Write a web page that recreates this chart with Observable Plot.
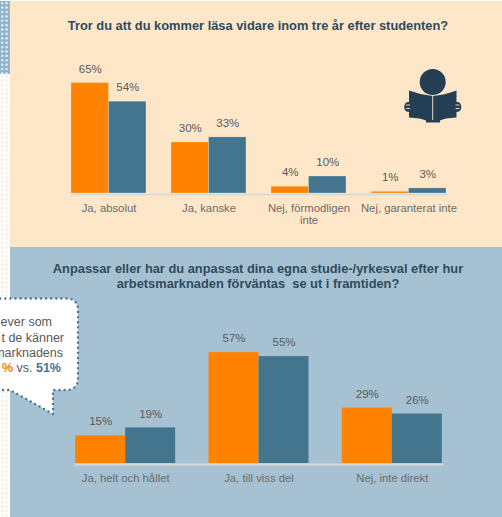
<!DOCTYPE html>
<html>
<head>
<meta charset="utf-8">
<script src="https://cdn.jsdelivr.net/npm/d3@7"></script>
<script src="https://cdn.jsdelivr.net/npm/@observablehq/plot@0.6"></script>
<style>
html,body{margin:0;padding:0;background:#fff;}
#page{position:relative;width:502px;height:517px;overflow:hidden;font-family:"Liberation Sans",Arial,sans-serif;}
.panel{position:absolute;left:10px;width:492px;}
#p1{top:1px;height:246px;background:#FEE6C9;}
#p2{top:247px;height:270px;background:#A6C2D2;}
.strip{position:absolute;left:0;width:10px;}
#s1{top:1px;height:73px;background-color:#8FB2C9;background-image:radial-gradient(circle,#e4edf3 1px,transparent 1.4px);background-size:4.4px 4.4px;}
#s2{top:74px;height:443px;background-color:#fff;background-image:radial-gradient(circle,#FDEBD8 1px,transparent 1.4px);background-size:4.4px 4.4px;}
.title{position:absolute;left:7px;width:502px;text-align:center;font-weight:bold;font-size:12.85px;line-height:15.5px;color:#2F4B5E;}
.chart{position:absolute;left:0;}
.chart svg{display:block;background:transparent;overflow:visible;}
#deco{position:absolute;left:0;top:0;}
.cl{position:absolute;font-size:12.5px;line-height:15px;color:#595959;white-space:nowrap;text-align:right;}
</style>
</head>
<body>
<div id="page">
  <div class="strip" id="s1"></div>
  <div class="strip" id="s2"></div>
  <div class="panel" id="p1"></div>
  <div class="panel" id="p2"></div>
  <div class="title" style="top:17.5px">Tror du att du kommer läsa vidare inom tre år efter studenten?</div>
  <div class="title" style="top:260.5px">Anpassar eller har du anpassat dina egna studie-/yrkesval efter hur<br>arbetsmarknaden förväntas&nbsp; se ut i framtiden?</div>
  <div class="chart" id="c1" style="top:60px"></div>
  <div class="chart" id="c2" style="top:320px"></div>
  <svg id="deco" width="502" height="517">
    <path d="M-10 298.5H66Q78 298.5 78 310.5V378Q78 390 66 390H53V414L10 390H-10Z" fill="#fff" stroke="#44758F" stroke-width="2.4" stroke-linecap="round" stroke-dasharray="0 5.1"/>
    <g fill="#243F54">
      <circle cx="432.7" cy="82" r="13"/>
      <path d="M409 90.5Q421 95 432.7 96Q444 95 456.5 90.5V117.5Q444 118 440 120.5V122.5H426V120.5Q421 118 409 117.5Z"/>
      <ellipse cx="408" cy="107" rx="3.8" ry="5"/>
      <ellipse cx="457.5" cy="107" rx="3.8" ry="5"/>
    </g>
    <g stroke="#FEE6C9" stroke-width="0.9" fill="none">
      <path d="M432.7 96V120M406 105H410M406 108.5H410M455.5 105H459.5M455.5 108.5H459.5"/>
    </g>
  </svg>
  <div class="cl" style="right:450px;top:315px">ever som</div>
  <div class="cl" style="right:438px;top:330.5px">t de känner</div>
  <div class="cl" style="right:439px;top:345.5px">marknadens</div>
  <div class="cl" style="right:441px;top:361px"><b style="color:#FF8200">%</b> vs. <b style="color:#44758F">51%</b></div>
</div>
<script>
const seriesNames = ["A", "B"];
const seriesColors = ["#FF8200", "#44758F"];

const categories1 = ["Ja, absolut", "Ja, kanske", "Nej, förmodligen\ninte", "Nej, garanterat inte"];
const valuesA1 = [65, 30, 4, 1];
const valuesB1 = [54, 33, 10, 3];

const categories2 = ["Ja, helt och hållet", "Ja, till viss del", "Nej, inte direkt"];
const valuesA2 = [15, 57, 29];
const valuesB2 = [19, 55, 26];

function rows(cats, a, b) {
  return cats.flatMap((c, i) => [
    {cat: c, series: seriesNames[0], value: a[i]},
    {cat: c, series: seriesNames[1], value: b[i]}
  ]);
}

function chart(cats, a, b, pxPerUnit, top, outline, base) {
  const data = rows(cats, a, b);
  const plotH = pxPerUnit * (70 - base);
  const bottom = 44;
  return Plot.plot({
    width: 502,
    height: top + plotH + bottom,
    marginTop: top,
    marginBottom: bottom,
    marginLeft: 58.5,
    marginRight: 43.5,
    style: {background: "transparent", fontFamily: "'Liberation Sans', Arial, sans-serif", fontSize: "11.3px", overflow: "visible"},
    fx: {domain: cats, paddingInner: 0.25, paddingOuter: 0.125, round: false, label: null},
    x: {domain: seriesNames, padding: 0, round: false, axis: null},
    y: {domain: [base, 70], axis: null},
    color: {domain: seriesNames, range: seriesColors},
    marks: [
      Plot.barY(data, {fx: "cat", x: "series", y1: base, y2: "value", fill: "series", stroke: "#fff", strokeOpacity: outline, strokeWidth: 0.8}),
      Plot.text(data, {fx: "cat", x: "series", y: "value", text: d => d.value + "%", dy: -14, fill: "#595959", fontSize: 11.5}),
      Plot.axisFx({tickSize: 0, tickPadding: 9.5, lineWidth: Infinity, fontSize: 11.3, color: "#6b6b6b", label: null, anchor: "bottom", lineHeight: 1.1}),
      Plot.frame({anchor: "bottom", stroke: "#D9D9D9", strokeWidth: 2, facet: "super", dy: 1})
    ]
  });
}

document.getElementById("c1").append(chart(categories1, valuesA1, valuesB1, 1.7, 14, 0.3, 0));
document.getElementById("c2").append(chart(categories2, valuesA2, valuesB2, 1.98, 6.4, 0, 1));
</script>
</body>
</html>
